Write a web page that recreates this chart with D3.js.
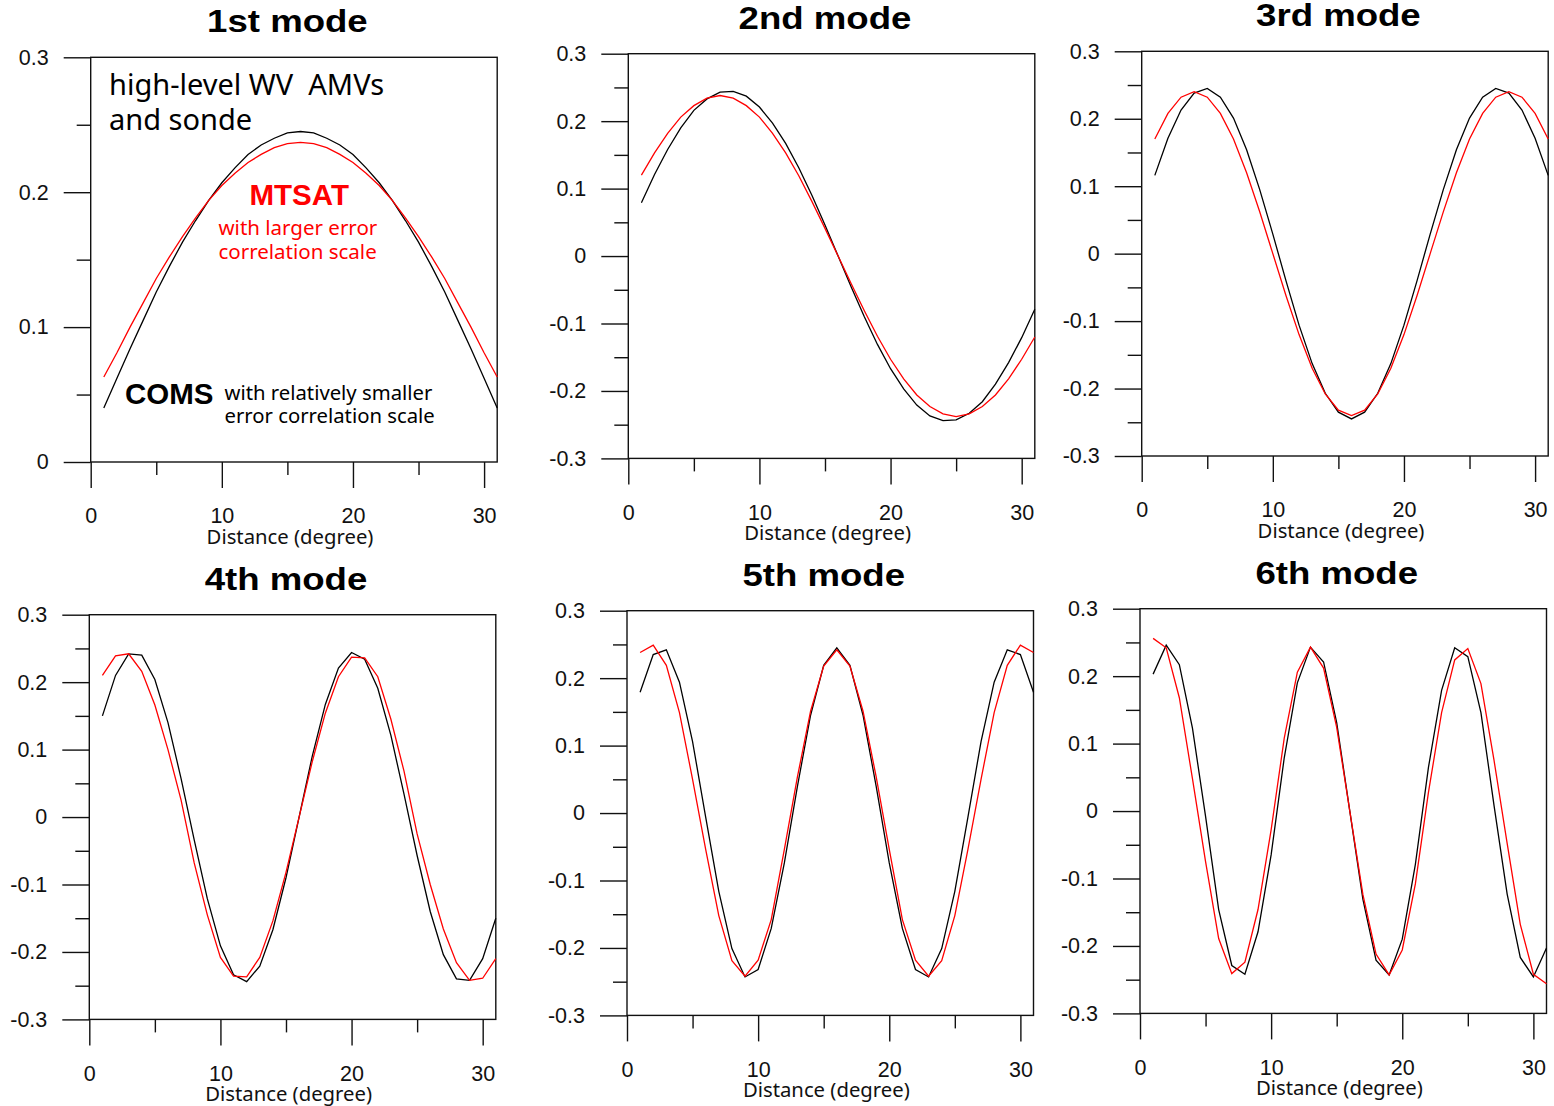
<!DOCTYPE html>
<meta charset="utf-8">
<title>EOF modes</title>
<script src="https://d3js.org/d3.v7.min.js"></script>
<style>
  body { margin: 0; background: #fff; }
</style>
<body>
</body>
<script>
// distance (degree) of each point
var distance = [1,2,3,4,5,6,7,8,9,10,11,12,13,14,15,16,17,18,19,20,21,22,23,24,25,26,27,28,29,30,31];

var modeTitles = ["1st mode", "2nd mode", "3rd mode", "4th mode", "5th mode", "6th mode"];

// COMS (black) and MTSAT (red) eigenvectors
var comsMode1 = [0.040,0.062,0.084,0.105,0.126,0.145,0.163,0.179,0.194,0.207,0.218,0.228,0.235,0.240,0.244,0.245,0.244,0.240,0.235,0.228,0.218,0.207,0.194,0.179,0.163,0.145,0.126,0.105,0.084,0.062,0.040];
var mtsatMode1 = [0.063,0.081,0.100,0.118,0.136,0.152,0.167,0.181,0.194,0.205,0.214,0.222,0.228,0.233,0.236,0.237,0.236,0.233,0.228,0.222,0.214,0.205,0.194,0.181,0.167,0.152,0.136,0.118,0.100,0.081,0.063];

var comsMode2 = [0.079,0.121,0.158,0.190,0.216,0.233,0.243,0.244,0.237,0.221,0.197,0.167,0.131,0.090,0.046,0,-0.046,-0.090,-0.131,-0.167,-0.197,-0.221,-0.237,-0.244,-0.243,-0.233,-0.216,-0.190,-0.158,-0.121,-0.079];
var mtsatMode2 = [0.120,0.153,0.182,0.206,0.223,0.234,0.238,0.234,0.223,0.206,0.182,0.153,0.119,0.081,0.041,0,-0.041,-0.081,-0.119,-0.153,-0.182,-0.206,-0.223,-0.234,-0.238,-0.234,-0.223,-0.206,-0.182,-0.153,-0.120];

var comsMode3 = [0.116,0.171,0.213,0.238,0.245,0.232,0.201,0.154,0.095,0.029,-0.040,-0.106,-0.163,-0.207,-0.235,-0.245,-0.235,-0.207,-0.163,-0.106,-0.040,0.029,0.095,0.154,0.201,0.232,0.245,0.238,0.213,0.171,0.116];
var mtsatMode3 = [0.170,0.208,0.232,0.240,0.232,0.208,0.170,0.120,0.062,0,-0.062,-0.120,-0.170,-0.208,-0.232,-0.240,-0.232,-0.208,-0.170,-0.120,-0.062,0,0.062,0.120,0.170,0.208,0.232,0.240,0.232,0.208,0.170];

var comsMode4 = [0.150,0.210,0.242,0.240,0.204,0.140,0.057,-0.034,-0.121,-0.191,-0.234,-0.244,-0.221,-0.167,-0.090,0,0.090,0.167,0.221,0.244,0.234,0.191,0.121,0.034,-0.057,-0.140,-0.204,-0.240,-0.242,-0.210,-0.150];
var mtsatMode4 = [0.210,0.239,0.242,0.216,0.166,0.100,0.025,-0.068,-0.145,-0.208,-0.236,-0.237,-0.208,-0.154,-0.082,0,0.082,0.154,0.208,0.237,0.236,0.208,0.145,0.068,-0.025,-0.100,-0.166,-0.216,-0.242,-0.239,-0.210];

var comsMode5 = [0.179,0.235,0.242,0.194,0.106,-0.006,-0.116,-0.201,-0.243,-0.232,-0.171,-0.074,0.040,0.145,0.219,0.245,0.219,0.145,0.040,-0.074,-0.171,-0.232,-0.243,-0.201,-0.116,-0.006,0.106,0.194,0.242,0.235,0.179];
var mtsatMode5 = [0.238,0.249,0.219,0.149,0.050,-0.054,-0.152,-0.219,-0.242,-0.218,-0.158,-0.054,0.054,0.151,0.218,0.242,0.218,0.151,0.054,-0.054,-0.158,-0.218,-0.242,-0.219,-0.152,-0.054,0.050,0.149,0.219,0.249,0.238];

var comsMode6 = [0.203,0.246,0.217,0.123,-0.008,-0.146,-0.229,-0.242,-0.179,-0.065,0.079,0.190,0.243,0.221,0.131,0,-0.131,-0.221,-0.243,-0.190,-0.079,0.065,0.179,0.242,0.229,0.146,0.008,-0.123,-0.217,-0.246,-0.203];
var mtsatMode6 = [0.256,0.242,0.168,0.048,-0.075,-0.189,-0.241,-0.224,-0.146,-0.028,0.108,0.206,0.243,0.212,0.124,0,-0.124,-0.212,-0.243,-0.206,-0.108,0.028,0.146,0.224,0.241,0.189,0.075,-0.048,-0.168,-0.242,-0.256];

var comsModes = [comsMode1, comsMode2, comsMode3, comsMode4, comsMode5, comsMode6];
var mtsatModes = [mtsatMode1, mtsatMode2, mtsatMode3, mtsatMode4, mtsatMode5, mtsatMode6];

var xTicks = [0, 10, 20, 30];
var xMinorTicks = [5, 15, 25];
var yTicksFirst = [0, 0.1, 0.2, 0.3];
var yMinorFirst = [0.05, 0.15, 0.25];
var yTicksOther = [-0.3, -0.2, -0.1, 0, 0.1, 0.2, 0.3];
var yMinorOther = [-0.25, -0.15, -0.05, 0.05, 0.15, 0.25];

// panel boxes: left, top
var boxes = [[90.7, 57.3], [628.3, 53.7], [1141.7, 51.3],
             [89.3, 614.7], [627, 610.7], [1140, 608.7]];
var boxW = 406.5, boxH = 404.7;

var svg = d3.select("body").append("svg")
            .attr("width", 1554)
            .attr("height", 1106);

function fmt(d) { return d === 0 ? "0" : d.toFixed(1); }

boxes.forEach(function (b, i) {
  var left = b[0], top = b[1];
  var first = (i === 0);
  var x = d3.scaleLinear().domain([0, 31]).range([left, left + boxW]);
  var y = d3.scaleLinear().domain(first ? [0, 0.3] : [-0.3, 0.3]).range([top + boxH, top]);

  var g = svg.append("g");

  // y axis, major + minor
  var ya = g.append("g").attr("transform", "translate(" + left + ",0)")
            .call(d3.axisLeft(y).tickValues(first ? yTicksFirst : yTicksOther)
                    .tickSize(27).tickPadding(15).tickFormat(fmt));
  var ym = g.append("g").attr("transform", "translate(" + left + ",0)")
            .call(d3.axisLeft(y).tickValues(first ? yMinorFirst : yMinorOther)
                    .tickSize(14).tickFormat(""));

  // x axis, major + minor
  var xa = g.append("g").attr("transform", "translate(0," + (top + boxH) + ")")
            .call(d3.axisBottom(x).tickValues(xTicks).tickSize(26).tickPadding(20).tickFormat(d3.format("d")));
  var xm = g.append("g").attr("transform", "translate(0," + (top + boxH) + ")")
            .call(d3.axisBottom(x).tickValues(xMinorTicks).tickSize(13).tickFormat(""));

  [ya, ym, xa, xm].forEach(function (a) {
    a.select(".domain").remove();
    a.selectAll("line").attr("stroke", "#111").attr("stroke-width", 1.4);
    a.selectAll("text").attr("fill", "#111")
     .attr("font-family", "Arial, 'Liberation Sans', sans-serif")
     .attr("font-size", 21.5);
  });

  g.append("rect")
   .attr("x", left).attr("y", top)
   .attr("width", boxW).attr("height", boxH)
   .attr("fill", "none").attr("stroke", "#111").attr("stroke-width", 1.4);

  g.append("text")
   .attr("x", x(15.2)).attr("y", top + boxH + 82)
   .attr("text-anchor", "middle")
   .attr("font-family", "'Noto Sans', 'Open Sans', sans-serif")
   .attr("font-size", 20.3)
   .attr("fill", "#111")
   .text("Distance (degree)");

  g.append("text")
   .attr("transform", "translate(" + x(15) + "," + (top - 25) + ") scale(1.2,1)")
   .attr("text-anchor", "middle")
   .attr("font-family", "Arial, 'Liberation Sans', sans-serif")
   .attr("font-weight", "bold")
   .attr("font-size", 30.5)
   .attr("fill", "#000")
   .text(modeTitles[i]);

  var line = d3.line()
               .x(function (d, k) { return x(distance[k]); })
               .y(function (d) { return y(d); });

  g.append("path").datum(comsModes[i])
   .attr("d", line).attr("fill", "none")
   .attr("stroke", "#000").attr("stroke-width", 1.3);
  g.append("path").datum(mtsatModes[i])
   .attr("d", line).attr("fill", "none")
   .attr("stroke", "#ff0000").attr("stroke-width", 1.3);

  if (first) {
    var note = g.append("g").attr("font-family", "'Noto Sans', 'Open Sans', sans-serif");
    note.append("text").attr("x", 109).attr("y", 94.5)
        .attr("font-size", 29).style("white-space", "pre")
        .text("high-level WV  AMVs");
    note.append("text").attr("x", 109).attr("y", 129.5)
        .attr("font-size", 29).text("and sonde");
    note.append("text").attr("x", 249.5).attr("y", 205)
        .attr("font-family", "Arial, 'Liberation Sans', sans-serif")
        .attr("font-weight", "bold").attr("font-size", 29.5)
        .attr("fill", "#ff0000").text("MTSAT");
    note.append("text").attr("x", 218.5).attr("y", 234.5)
        .attr("font-size", 20.5).attr("fill", "#ff0000").text("with larger error");
    note.append("text").attr("x", 218.5).attr("y", 258.5)
        .attr("font-size", 20.5).attr("fill", "#ff0000").text("correlation scale");
    note.append("text").attr("x", 125).attr("y", 403.5)
        .attr("font-family", "Arial, 'Liberation Sans', sans-serif")
        .attr("font-weight", "bold").attr("font-size", 29.5)
        .text("COMS");
    note.append("text").attr("x", 224.5).attr("y", 399.5)
        .attr("font-size", 20.3).text("with relatively smaller");
    note.append("text").attr("x", 224.5).attr("y", 423)
        .attr("font-size", 20.3).text("error correlation scale");
  }
});
</script>
